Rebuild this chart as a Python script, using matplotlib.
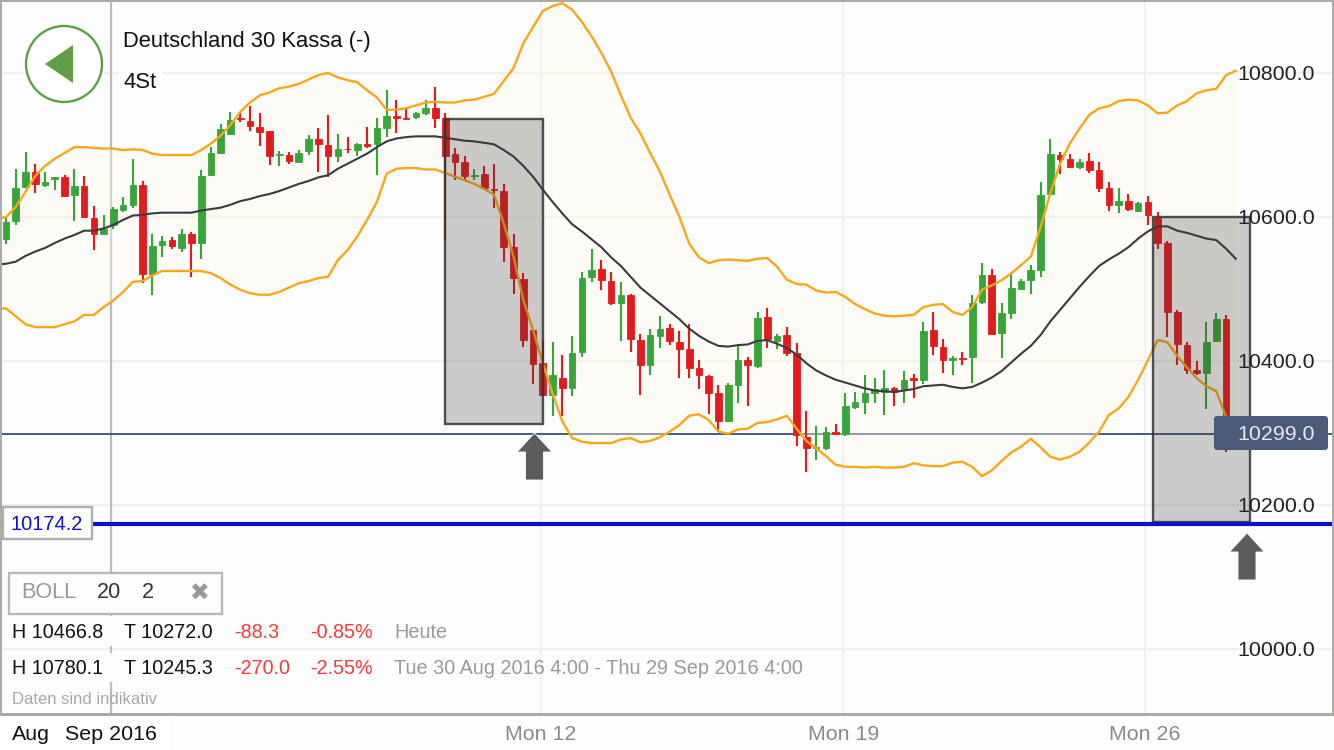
import numpy as np
import matplotlib
matplotlib.use('Agg')
import matplotlib.pyplot as plt
from matplotlib.patches import Rectangle, Circle, Polygon, FancyBboxPatch

plt.rcParams['font.family'] = ['Liberation Sans', 'DejaVu Sans']

# 4h candles, index 0..125
opens = [10570, 10595, 10642, 10663, 10645, 10653, 10655, 10630, 10643, 10599,
         10577, 10589, 10610, 10617, 10645, 10521, 10561, 10568, 10557, 10577,
         10564, 10659, 10689, 10715, 10737, 10733, 10725, 10719, 10686, 10686,
         10676, 10692, 10709, 10700, 10685, 10695, 10693, 10701, 10702, 10724,
         10740, 10737, 10739, 10744, 10752, 10737, 10688, 10676, 10657, 10660,
         10639, 10636, 10558, 10514, 10443, 10397, 10353, 10377, 10362, 10412,
         10516, 10528, 10511, 10480, 10492, 10429, 10394, 10435, 10446, 10427,
         10416, 10390, 10379, 10356, 10316, 10367, 10402, 10393, 10461, 10428,
         10436, 10411, 10294, 10279, 10279, 10302, 10298, 10336, 10343, 10356,
         10357, 10362, 10361, 10376, 10374, 10443, 10420, 10402, 10404, 10405,
         10482, 10519, 10439, 10467, 10500, 10513, 10527, 10632, 10686, 10680,
         10669, 10678, 10665, 10640, 10616, 10622, 10608, 10621, 10599, 10564,
         10468, 10422, 10387, 10384, 10428, 10459]
closes = [10593, 10640, 10663, 10646, 10649, 10655, 10629, 10643, 10600, 10577,
          10584, 10611, 10617, 10645, 10521, 10560, 10566, 10560, 10577, 10564,
          10657, 10689, 10722, 10735, 10736, 10726, 10718, 10685, 10687, 10678,
          10689, 10709, 10701, 10685, 10695, 10694, 10702, 10699, 10723, 10740,
          10738, 10736, 10745, 10752, 10737, 10685, 10676, 10657, 10659, 10640,
          10637, 10559, 10515, 10429, 10396, 10353, 10380, 10362, 10411, 10515,
          10526, 10513, 10480, 10492, 10431, 10394, 10436, 10444, 10428, 10417,
          10390, 10380, 10355, 10317, 10366, 10401, 10394, 10460, 10430, 10435,
          10411, 10297, 10279, 10281, 10302, 10298, 10337, 10343, 10355, 10361,
          10362, 10357, 10374, 10374, 10442, 10421, 10401, 10404, 10403, 10481,
          10519, 10438, 10467, 10501, 10511, 10526, 10631, 10687, 10680, 10670,
          10676, 10665, 10640, 10616, 10622, 10611, 10619, 10603, 10564, 10468,
          10423, 10387, 10383, 10426, 10459, 10299]
highs = [10600, 10666, 10690, 10674, 10662, 10655, 10659, 10666, 10657, 10615,
         10603, 10614, 10628, 10680, 10650, 10577, 10574, 10572, 10583, 10579,
         10665, 10697, 10729, 10746, 10744, 10754, 10744, 10719, 10691, 10690,
         10693, 10714, 10724, 10742, 10715, 10711, 10703, 10725, 10737, 10777,
         10762, 10751, 10746, 10762, 10780, 10745, 10696, 10685, 10666, 10671,
         10674, 10646, 10577, 10522, 10443, 10429, 10427, 10409, 10435, 10524,
         10556, 10540, 10524, 10510, 10493, 10437, 10445, 10462, 10452, 10442,
         10451, 10402, 10381, 10367, 10370, 10424, 10406, 10468, 10474, 10438,
         10447, 10425, 10330, 10310, 10308, 10312, 10356, 10357, 10380, 10377,
         10387, 10364, 10386, 10382, 10454, 10468, 10430, 10407, 10412, 10491,
         10536, 10528, 10480, 10522, 10514, 10534, 10649, 10708, 10690, 10687,
         10681, 10689, 10677, 10649, 10640, 10632, 10621, 10629, 10607, 10566,
         10471, 10427, 10400, 10454, 10467, 10464]
lows = [10562, 10589, 10640, 10634, 10642, 10637, 10628, 10595, 10599, 10554,
        10577, 10583, 10607, 10612, 10508, 10491, 10545, 10555, 10552, 10516,
        10542, 10658, 10688, 10715, 10732, 10720, 10699, 10672, 10671, 10674,
        10676, 10686, 10662, 10655, 10677, 10689, 10685, 10696, 10658, 10711,
        10716, 10735, 10736, 10741, 10723, 10568, 10651, 10650, 10652, 10639,
        10612, 10538, 10493, 10420, 10368, 10353, 10324, 10324, 10352, 10405,
        10510, 10498, 10478, 10428, 10413, 10353, 10380, 10418, 10422, 10377,
        10376, 10361, 10327, 10304, 10315, 10341, 10337, 10390, 10418, 10417,
        10407, 10282, 10246, 10262, 10277, 10298, 10296, 10334, 10326, 10341,
        10325, 10338, 10342, 10349, 10368, 10408, 10383, 10380, 10394, 10369,
        10479, 10437, 10404, 10459, 10500, 10493, 10517, 10631, 10660, 10669,
        10666, 10661, 10635, 10609, 10605, 10609, 10607, 10589, 10555, 10433,
        10394, 10382, 10381, 10334, 10426, 10273]

# bollinger 20/2, index -1..126
boll_upper = [10597, 10600, 10614, 10635, 10657, 10671, 10681, 10689, 10697, 10697,
              10696, 10695, 10695, 10693, 10694, 10693, 10688, 10686, 10686, 10686,
              10686, 10693, 10702, 10713, 10728, 10746, 10759, 10769, 10773, 10779,
              10781, 10785, 10791, 10797, 10800, 10794, 10790, 10787, 10776, 10766,
              10749, 10749, 10751, 10755, 10759, 10760, 10759, 10759, 10762, 10763,
              10767, 10771, 10789, 10807, 10841, 10864, 10886, 10893, 10897, 10888,
              10871, 10851, 10828, 10802, 10769, 10738, 10716, 10689, 10663, 10631,
              10600, 10563, 10544, 10536, 10540, 10541, 10540, 10539, 10542, 10543,
              10531, 10513, 10507, 10506, 10498, 10495, 10496, 10489, 10479, 10472,
              10466, 10463, 10462, 10463, 10464, 10475, 10478, 10479, 10468, 10464,
              10475, 10499, 10505, 10512, 10522, 10533, 10545, 10586, 10633, 10674,
              10702, 10723, 10742, 10751, 10754, 10761, 10763, 10762, 10755, 10744,
              10745, 10755, 10761, 10772, 10776, 10778, 10797, 10803]
boll_mid = [10534, 10535, 10538, 10546, 10552, 10557, 10564, 10570, 10575, 10581,
            10581, 10584, 10589, 10596, 10602, 10603, 10605, 10606, 10606, 10606,
            10606, 10609, 10611, 10613, 10617, 10622, 10625, 10629, 10632, 10636,
            10641, 10646, 10650, 10655, 10658, 10667, 10674, 10681, 10688, 10697,
            10705, 10709, 10711, 10712, 10712, 10712, 10710, 10708, 10706, 10705,
            10703, 10701, 10693, 10684, 10671, 10656, 10638, 10621, 10605, 10590,
            10580, 10569, 10558, 10544, 10532, 10517, 10502, 10491, 10480, 10469,
            10458, 10445, 10435, 10427, 10421, 10420, 10422, 10423, 10428, 10429,
            10424, 10418, 10409, 10397, 10387, 10380, 10374, 10370, 10366, 10362,
            10359, 10358, 10357, 10359, 10361, 10365, 10366, 10367, 10364, 10362,
            10364, 10370, 10377, 10386, 10398, 10410, 10421, 10436, 10455, 10471,
            10487, 10503, 10518, 10532, 10541, 10549, 10558, 10570, 10580, 10587,
            10587, 10581, 10578, 10574, 10570, 10568, 10556, 10542]
boll_lower = [10473, 10473, 10462, 10451, 10447, 10447, 10447, 10451, 10455, 10464,
              10464, 10475, 10484, 10496, 10510, 10511, 10519, 10525, 10525, 10525,
              10525, 10525, 10522, 10515, 10506, 10499, 10494, 10492, 10492, 10496,
              10502, 10508, 10511, 10515, 10517, 10540, 10554, 10573, 10596, 10621,
              10660, 10667, 10668, 10668, 10666, 10666, 10661, 10656, 10651, 10646,
              10639, 10631, 10591, 10545, 10485, 10443, 10397, 10355, 10316, 10293,
              10288, 10286, 10286, 10286, 10291, 10293, 10287, 10289, 10294, 10302,
              10311, 10324, 10326, 10318, 10302, 10299, 10305, 10306, 10314, 10315,
              10319, 10324, 10306, 10289, 10279, 10268, 10256, 10253, 10253, 10252,
              10253, 10252, 10252, 10253, 10258, 10255, 10254, 10254, 10259, 10260,
              10253, 10240, 10248, 10261, 10273, 10281, 10292, 10280, 10267, 10263,
              10267, 10274, 10287, 10302, 10325, 10334, 10350, 10374, 10401, 10429,
              10426, 10407, 10391, 10376, 10365, 10358, 10323, 10285]

price_ticks = [10800, 10600, 10400, 10200, 10000]
week_pos = [54.8, 85.8, 116.7]
week_labels = ['Mon 12', 'Mon 19', 'Mon 26']
month_pos = 10.76
current_price = 10299.0
level_price = 10174.2
boxes = [(45, 55, 10312.5, 10736), (117.5, 127.5, 10176, 10600)]

GREEN = '#38a53a'
RED = '#e31b1c'
ORANGE = '#f5a81c'
NAVY = '#4a5b78'
BG = '#fdfdfd'

fig = plt.figure(figsize=(13.34, 7.5), dpi=100, facecolor=BG)
ax = fig.add_axes([0, 0, 1, 1], facecolor=BG)
# 9.76 px per candle, 0.72 px per point
ax.set_xlim(-6 / 9.76, 1328 / 9.76)
ax.set_ylim(10800 - 677 / 0.72, 10800 + 73 / 0.72)
for s in ax.spines.values():
    s.set_visible(False)
ax.set_xticks(week_pos)
ax.set_yticks(price_ticks)
ax.tick_params(length=0, labelbottom=False, labelleft=False)
ax.set_axisbelow(True)
ax.grid(axis='y', color='#f0f0f0', lw=1.6)
ax.grid(axis='x', color='#eef0fa', lw=1.6)

ax.axvline(month_pos, color='#bcbcbc', lw=1.6, zorder=1)
ax.axhline(current_price, color=NAVY, lw=1.4, zorder=1)

# fill is translucent, the price line shows paler inside the band
band_x = np.arange(-1, 127)
ax.fill_between(band_x, boll_lower, boll_upper, color=(1, 0.973, 0.914), alpha=0.4, lw=0, zorder=2)

idx = np.arange(len(opens))
op = np.array(opens)
cl = np.array(closes)
colors = [GREEN if c >= o else RED for o, c in zip(op, cl)]
ax.vlines(idx, lows, highs, colors=colors, lw=1.5, zorder=3)
ax.bar(idx, np.abs(cl - op), bottom=np.minimum(op, cl), width=0.68, color=colors,
       edgecolor=colors, lw=0.6, zorder=3)

ax.plot(band_x, boll_upper, color=ORANGE, lw=1.7, zorder=4)
ax.plot(band_x, boll_lower, color=ORANGE, lw=1.7, zorder=4)
ax.plot(band_x, boll_mid, color='#3a3a42', lw=1.5, zorder=4)

for x0, x1, y0, y1 in boxes:
    ax.add_patch(Rectangle((x0, y0), x1 - x0, y1 - y0, facecolor=(0.21, 0.21, 0.21, 0.25),
                           edgecolor=(0.2, 0.2, 0.2, 0.85), lw=1.7, zorder=5))

ax.plot([(93 - 6) / 9.76, 1328 / 9.76], [level_price, level_price], color='#0a14c8', lw=3, zorder=6,
        solid_capstyle='butt')

# overlay in screen pixels for the app furniture
ui = fig.add_axes([0, 0, 1, 1], facecolor='none')
ui.set_xlim(0, 1334)
ui.set_ylim(750, 0)
ui.axis('off')


def label(x, y, s, size=14.2, color='#111111', **kw):
    ui.text(x, y + 1.5, s, fontsize=size, color=color, va='center', **kw)


# frame and bottom strip
ui.add_patch(Rectangle((0, 715), 1334, 35, facecolor='#fdfdfd', lw=0))
ui.add_patch(Rectangle((0, 716), 170, 34, facecolor='#ffffff', lw=0))
frame = '#ababa6'
ui.add_patch(Rectangle((0, 713), 1334, 3, facecolor=frame, lw=0))
ui.add_patch(Rectangle((0, 0), 1334, 2, facecolor=frame, lw=0))
ui.add_patch(Rectangle((0, 0), 2, 714, facecolor=frame, lw=0))
ui.add_patch(Rectangle((1332, 0), 2, 714, facecolor=frame, lw=0))

# price axis labels
for p in price_ticks:
    label(1237, 73 + (10800 - p) * 0.72, '%.1f' % p, size=15.4, color='#222222')
ui.add_patch(FancyBboxPatch((1216, 418), 110, 30, boxstyle='round,pad=2,rounding_size=3',
                            facecolor=NAVY, lw=0))
label(1237, 433, '%.1f' % current_price, size=15.4, color='#e6eaf0')

# back button and title
ui.add_patch(Circle((64, 64), 38, facecolor='white', edgecolor='#5f9f47', lw=1.7))
ui.add_patch(Polygon([(45, 64), (73, 45), (73, 83)], facecolor='#5f9f47', lw=0))
label(123, 40.5, 'Deutschland 30 Kassa (-)', size=15.8, color='#111111')
ui.add_patch(Rectangle((118, 68), 44, 26, facecolor=BG, lw=0))
label(123, 80.5, '4St', size=15.8, color='#111111')

# arrows
for tip_x, tip_y in [(534.5, 433), (1247, 533)]:
    ui.add_patch(Polygon([(tip_x, tip_y), (tip_x + 17.5, tip_y + 19), (tip_x + 9, tip_y + 19),
                          (tip_x + 9, tip_y + 47), (tip_x - 9, tip_y + 47), (tip_x - 9, tip_y + 19),
                          (tip_x - 17.5, tip_y + 19)], facecolor='#5c5c5c', edgecolor='white', lw=0.6))

# level label
ui.add_patch(Rectangle((3, 507), 89, 32, facecolor='white', edgecolor='#b0b0ac', lw=1.7))
label(10, 523.5, '10174.2', size=14.4, color='#0a14c8')

# indicator box
ui.add_patch(Rectangle((9, 573), 213, 41, facecolor=BG, edgecolor='#b8b8b4', lw=1.7))
label(21, 590.5, 'BOLL', size=15.6, color='#999999')
label(97, 591, '20', size=15.6, color='#333340')
label(142, 591, '2', size=15.6, color='#333340')
label(200, 592, '\u2716', size=17, color='#999999', family='DejaVu Sans', ha='center')

# summary rows hide the month line
ui.add_patch(Rectangle((100, 616), 24, 30, facecolor=BG, lw=0))
ui.add_patch(Rectangle((100, 653), 24, 29, facecolor=BG, lw=0))
rows = [(631.5, 'H 10466.8', 'T 10272.0', '-88.3', '-0.85%', 'Heute'),
        (667.5, 'H 10780.1', 'T 10245.3', '-270.0', '-2.55%', 'Tue 30 Aug 2016 4:00 - Thu 29 Sep 2016 4:00')]
for y, hi, lo, chg, pct, span in rows:
    label(12, y, hi)
    label(124, y, lo)
    label(234, y, chg, color='#f23c3c')
    label(310, y, pct, color='#f23c3c')
    label(394, y, span, size=14.35, color='#9a9a9a')
label(12, 698.5, 'Daten sind indikativ', size=12, color='#a8a8a8')

# time axis labels
label(12, 732.5, 'Aug', size=15.4)
label(65, 732.5, 'Sep 2016', size=15.4)
for pos, txt in zip(week_pos, week_labels):
    label(6 + pos * 9.76, 732.5, txt, size=15.4, color='#8a8a8a', ha='center')

fig.savefig('out.png', dpi=100, facecolor=BG)
